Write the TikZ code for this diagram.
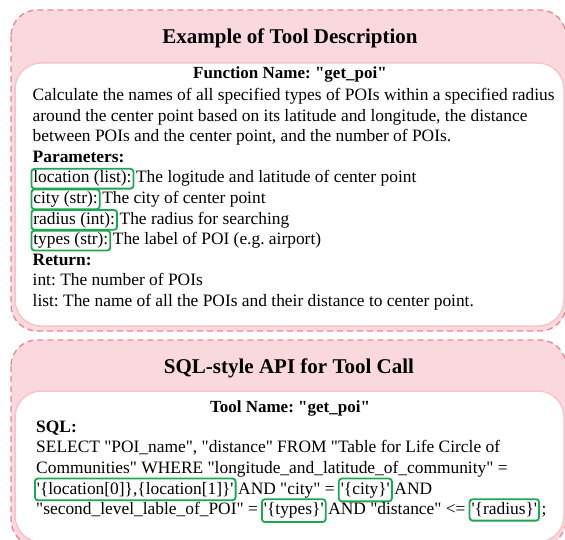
\documentclass[tikz,border=0pt]{standalone}
\usepackage{fontspec}
\setmainfont{Liberation Serif}[Ligatures=TeXOff]
\frenchspacing
\usetikzlibrary{positioning}
\definecolor{panelpink}{RGB}{250,217,222}
\definecolor{dashpink}{RGB}{236,134,150}
\definecolor{edgepink}{RGB}{247,196,205}
\definecolor{keygreen}{RGB}{28,168,82}
\tikzset{panel/.style={
    draw=dashpink,
    fill=panelpink,
    dash pattern=on 6pt off 4pt,
    line width=1.3pt,
    rounded corners=26pt
  },
  card/.style={draw=edgepink,fill=white,line width=1.5pt,rounded corners=26pt},
  title/.style={font=\fontsize{21}{25}\selectfont\bfseries,anchor=base},
  head/.style={font=\fontsize{17}{20}\selectfont\bfseries,anchor=base},
  txt/.style={font=\fontsize{17.4}{20}\selectfont,inner sep=0pt,anchor=base west},
  bold/.style={txt,font=\fontsize{17.4}{20}\selectfont\bfseries},
  key/.style={txt,draw=keygreen,line width=1.8pt,rounded corners=3pt,
    inner xsep=2pt,inner ysep=2pt},
  sqlkey/.style={key,inner ysep=3.5pt},
}

\begin{document}
\begin{tikzpicture}[x=1pt,y=-1pt]
  \useasboundingbox (0,0) rectangle (565,540);
  % tool description
  \draw[panel] (11,10) rectangle (566,331);
  \draw[card] (15,63) rectangle (564,326);
  \node[title] (desc) at (290,44) {Example of Tool Description};
  \node[head] (fname) at (290,78.5) {Function Name: "get\_poi"};
  \node[txt] (calc) at (32.5,100.5)
  {Calculate the names of all specified types of POIs within a specified radius};
  \node[txt] (around) at ([yshift=-20.6pt]calc.base west)
  {around the center point based on its latitude and longitude, the distance};
  \node[txt] (between) at ([yshift=-20.6pt]around.base west)
  {between POIs and the center point, and the number of POIs.};
  \node[bold] (params) at ([yshift=-20.6pt]between.base west) {Parameters:};
  \node[key] (kloc) at ([xshift=-2pt,yshift=-20.6pt]params.base west) {location (list):};
  \node[txt] (dloc) at ([xshift=1.5pt]kloc.base east)
  {The logitude and latitude of center point};
  \node[key] (kcity) at ([yshift=-20.6pt]kloc.base west) {city (str):};
  \node[txt] (dcity) at ([xshift=1.5pt]kcity.base east) {The city of center point};
  \node[key] (krad) at ([yshift=-20.6pt]kcity.base west) {radius (int):};
  \node[txt] (drad) at ([xshift=1.5pt]krad.base east) {The radius for searching};
  \node[key] (ktype) at ([yshift=-20.6pt]krad.base west) {types (str):};
  \node[txt] (dtype) at ([xshift=1.5pt]ktype.base east) {The label of POI (e.g. airport)};
  \node[bold] (ret) at ([xshift=2pt,yshift=-20.6pt]ktype.base west) {Return:};
  \node[txt] (rint) at ([yshift=-20.6pt]ret.base west) {int: The number of POIs};
  \node[txt] (rlist) at ([yshift=-20.6pt]rint.base west)
  {list: The name of all the POIs and their distance to center point.};

  % sql call
  \draw[panel] (11,340) rectangle (566,546);
  \draw[card] (15,391) rectangle (564,542);
  \node[title] (apit) at (289,373) {SQL-style API for Tool Call};
  \node[head] (tname) at (290,412) {Tool Name: "get\_poi"};
  \node[bold] (sql) at (36,432) {SQL:};
  \node[txt] (sel) at ([yshift=-20.7pt]sql.base west)
  {SELECT "POI\_name", "distance" FROM "Table for Life Circle of};
  \node[txt] (comm) at ([yshift=-20.7pt]sel.base west)
  {Communities" WHERE "longitude\_and\_latitude\_of\_community" =};
  \node[sqlkey] (kll) at ([xshift=-2pt,yshift=-20.7pt]comm.base west)
  {'\{location[0]\},\{location[1]\}'};
  \node[txt] (and1) at ([xshift=1.5pt]kll.base east) {AND "city" =};
  \node[sqlkey] (kcity2) at ([xshift=3pt]and1.base east) {'\{city\}'};
  \node[txt] (and2) at ([xshift=1.5pt]kcity2.base east) {AND};
  \node[txt] (slab) at ([xshift=2pt,yshift=-20.7pt]kll.base west)
  {"second\_level\_lable\_of\_POI" =};
  \node[sqlkey] (ktype2) at ([xshift=3pt]slab.base east) {'\{types\}'};
  \node[txt] (dist) at ([xshift=1.5pt]ktype2.base east) {AND "distance" <=};
  \node[sqlkey] (krad2) at ([xshift=3pt]dist.base east) {'\{radius\}'};
  \node[txt] (semi) at ([xshift=1.5pt]krad2.base east) {;};
\end{tikzpicture}
\end{document}
